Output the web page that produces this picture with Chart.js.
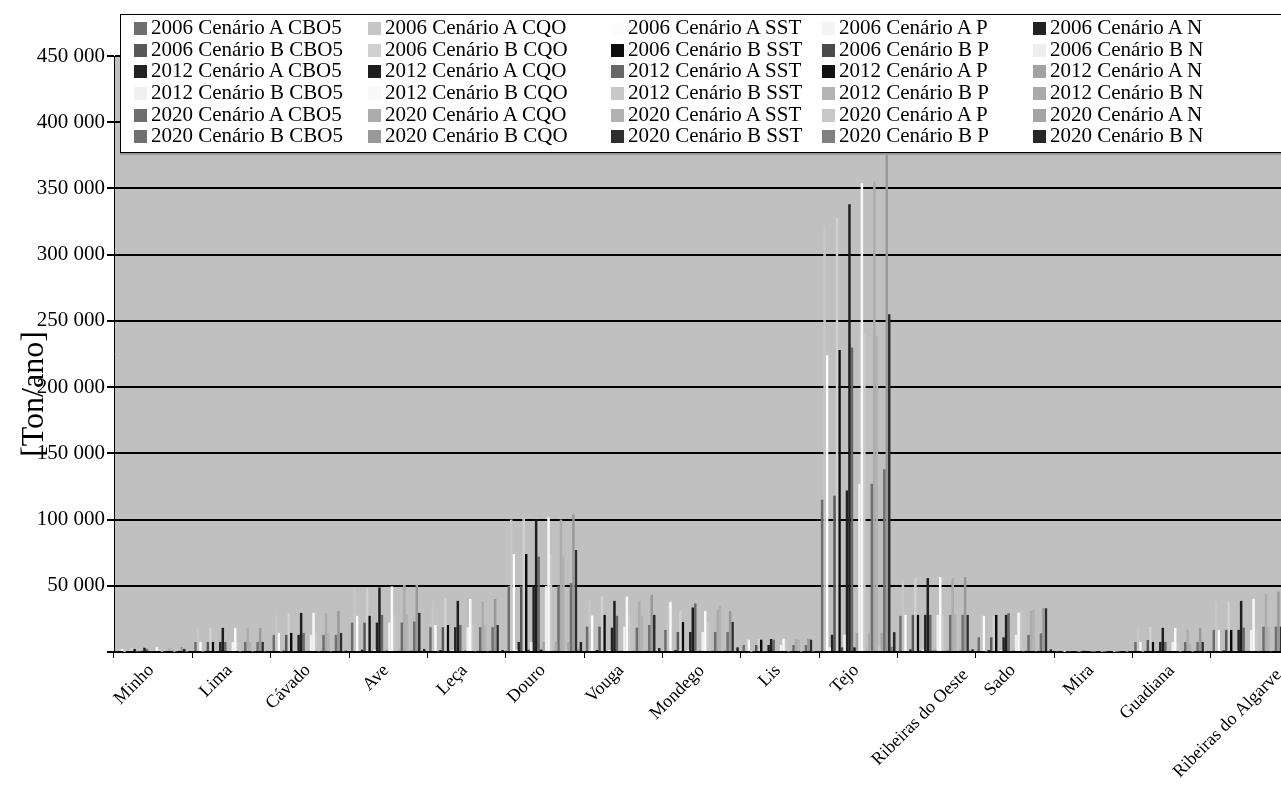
<!DOCTYPE html>
<html>
<head>
<meta charset="utf-8">
<script src="https://cdn.jsdelivr.net/npm/chart.js@4.4.1/dist/chart.umd.min.js"></script>
<style>
  html, body { margin: 0; padding: 0; overflow: hidden; background: #fff; width: 1281px; height: 790px; }
  #wrap { position: absolute; left: 0; top: 0; width: 1300px; height: 790px; }
  #legend {
    position: absolute; left: 120px; top: 14px; width: 1190px; height: 137px;
    background: #fff; border: 1px solid #000; box-shadow: 0 2px 0 #999;
    font-family: 'Liberation Serif', 'Times New Roman', serif; font-size: 21px; color: #000;
  }
  .item { position: absolute; white-space: nowrap; line-height: 21px; }
  .sw { display: inline-block; width: 13px; height: 13px; margin-right: 4px; vertical-align: -1px; }
</style>
</head>
<body>
<div id="wrap"><canvas id="chart" width="1300" height="790"></canvas></div>
<div id="legend"></div>
<script>
// Bacias hidrográficas
const bacias = ['Minho', 'Lima', 'Cávado', 'Ave', 'Leça', 'Douro', 'Vouga', 'Mondego', 'Lis', 'Tejo',
  'Ribeiras do Oeste', 'Sado', 'Mira', 'Guadiana', 'Ribeiras do Algarve'];

const cenarios = ['2006 Cenário A', '2006 Cenário B', '2012 Cenário A', '2012 Cenário B', '2020 Cenário A', '2020 Cenário B'];
const parametros = ['CBO5', 'CQO', 'SST', 'P', 'N'];

// --- CBO5 (ton/ano) ---
const cbo5_2006A = [700, 7600, 12900, 22200, 18700, 50000, 19200, 16700, 5300, 115000, 27300, 11100, 400, 7600, 16700];
const cbo5_2006B = [700, 7600, 12900, 22200, 18700, 50000, 19200, 15100, 5300, 118000, 28000, 11100, 400, 9100, 16700];
const cbo5_2012A = [800, 7600, 12900, 22200, 18700, 50000, 18400, 15100, 5300, 122000, 28000, 11100, 400, 7600, 16700];
const cbo5_2012B = [800, 7600, 12900, 22200, 18700, 50000, 19200, 15100, 5300, 127000, 28000, 12900, 400, 7600, 16700];
const cbo5_2020A = [800, 7600, 12900, 22200, 18700, 50000, 18400, 15100, 5300, 127000, 28000, 12900, 400, 7600, 19200];
const cbo5_2020B = [900, 7600, 12900, 23000, 18700, 52000, 20400, 15100, 5300, 138000, 28000, 14100, 400, 7600, 19200];

// --- CQO ---
const cqo_2006A = [3000, 18200, 28000, 48200, 38600, 100000, 40100, 34800, 9800, 322000, 54500, 28000, 900, 18200, 38100];
const cqo_2006B = [3200, 18200, 29500, 48200, 40100, 101000, 41900, 31000, 9800, 328000, 55800, 27300, 900, 18900, 38100];
const cqo_2012A = [3200, 18200, 29500, 48700, 38600, 100000, 38600, 33600, 9800, 338000, 55800, 28000, 900, 18200, 38600];
const cqo_2012B = [3800, 18200, 29500, 49500, 40100, 101500, 41900, 31000, 10000, 354000, 56600, 29800, 900, 18200, 40100];
const cqo_2020A = [2800, 18200, 29500, 50700, 38600, 100000, 38600, 31800, 10000, 355000, 55800, 31000, 900, 16700, 43900];
const cqo_2020B = [3800, 18200, 31000, 50700, 40100, 104000, 43200, 31000, 10000, 377000, 56600, 33000, 900, 18200, 45500];

// --- SST ---
const sst_2006A = [2300, 7600, 14400, 27300, 20400, 74000, 27500, 37900, 9300, 224000, 28000, 27300, 700, 7600, 16700];
const sst_2006B = [2300, 7600, 14400, 27300, 20400, 74000, 28000, 22700, 9300, 228000, 28000, 28000, 700, 7600, 16700];
const sst_2012A = [2300, 7600, 14400, 28000, 20400, 72000, 27300, 36600, 9300, 230000, 28000, 29300, 700, 7600, 18400];
const sst_2012B = [2300, 7600, 14400, 28000, 20400, 74000, 28000, 22700, 9300, 240000, 28000, 30600, 700, 7600, 18400];
const sst_2020A = [2300, 7600, 14400, 28000, 20400, 72000, 27300, 34800, 9300, 239000, 28000, 31800, 700, 6000, 19200];
const sst_2020B = [2300, 7600, 14400, 29500, 20400, 77000, 28000, 22700, 9300, 255000, 28000, 33000, 700, 7600, 19200];

// --- P ---
const p_2006A = [150, 400, 500, 800, 600, 1800, 800, 700, 300, 3500, 1000, 500, 50, 300, 600];
const p_2006B = [150, 400, 500, 800, 600, 1800, 800, 700, 300, 3500, 1000, 500, 50, 300, 600];
const p_2012A = [150, 400, 500, 800, 600, 1800, 800, 700, 300, 3500, 1000, 500, 50, 300, 600];
const p_2012B = [150, 400, 500, 800, 600, 1800, 800, 700, 300, 3500, 1000, 500, 50, 300, 600];
const p_2020A = [150, 400, 500, 800, 600, 1800, 800, 700, 300, 4000, 1000, 500, 50, 300, 600];
const p_2020B = [150, 400, 500, 800, 600, 1900, 800, 700, 300, 4000, 1000, 500, 50, 300, 600];

// --- N ---
const n_2006A = [600, 800, 1000, 1800, 1500, 7600, 1500, 1500, 700, 13000, 2000, 1500, 250, 800, 1200];
const n_2006B = [600, 800, 1000, 1800, 1500, 7600, 1500, 1500, 700, 13000, 2000, 1500, 250, 800, 1200];
const n_2012A = [600, 800, 1000, 1800, 1500, 7600, 1500, 1500, 700, 14500, 2000, 1500, 250, 800, 1200];
const n_2012B = [600, 800, 1000, 1800, 1500, 7600, 1500, 1500, 700, 14500, 2000, 1500, 250, 800, 1200];
const n_2020A = [600, 800, 1000, 1800, 1500, 7600, 1500, 1500, 700, 14500, 2000, 1500, 250, 800, 1200];
const n_2020B = [700, 800, 1000, 2300, 1500, 7600, 3000, 3500, 700, 15000, 2000, 2000, 250, 800, 1200];

// cores (tons de cinzento) por cenário: CBO5, CQO, SST, P, N
const cores_2006A = ['#6e6e6e', '#c6c6c6', '#fcfcfc', '#f4f4f4', '#222222'];
const cores_2006B = ['#585858', '#d0d0d0', '#0c0c0c', '#4a4a4a', '#eeeeee'];
const cores_2012A = ['#222222', '#1e1e1e', '#686868', '#111111', '#a2a2a2'];
const cores_2012B = ['#f0f0f0', '#f8f8f8', '#c8c8c8', '#b4b4b4', '#aaaaaa'];
const cores_2020A = ['#6e6e6e', '#acacac', '#b2b2b2', '#c8c8c8', '#a4a4a4'];
const cores_2020B = ['#707070', '#999999', '#2e2e2e', '#808080', '#262626'];

const series = [
  [cbo5_2006A, cqo_2006A, sst_2006A, p_2006A, n_2006A],
  [cbo5_2006B, cqo_2006B, sst_2006B, p_2006B, n_2006B],
  [cbo5_2012A, cqo_2012A, sst_2012A, p_2012A, n_2012A],
  [cbo5_2012B, cqo_2012B, sst_2012B, p_2012B, n_2012B],
  [cbo5_2020A, cqo_2020A, sst_2020A, p_2020A, n_2020A],
  [cbo5_2020B, cqo_2020B, sst_2020B, p_2020B, n_2020B]
];
const cores = [cores_2006A, cores_2006B, cores_2012A, cores_2012B, cores_2020A, cores_2020B];

const datasets = [];
cenarios.forEach((c, i) => {
  parametros.forEach((p, j) => {
    datasets.push({
      label: c + ' ' + p,
      data: series[i][j],
      backgroundColor: cores[i][j],
      borderWidth: 0
    });
  });
});

const FONTE = "'Liberation Serif', 'Times New Roman', serif";

// fundo cinzento da área do gráfico
const plotBg = {
  id: 'plotBg',
  beforeDraw(chart) {
    const { ctx, chartArea: a } = chart;
    ctx.save();
    ctx.fillStyle = '#c0c0c0';
    ctx.fillRect(a.left, a.top, a.right - a.left, a.bottom - a.top);
    ctx.restore();
  }
};

// rótulos longos ficam mais centrados na categoria (como no Excel)
const ajusteRotulos = {
  id: 'ajusteRotulos',
  beforeDraw(chart) {
    const ctx = chart.ctx;
    chart.scales.x.getLabelItems().forEach(it => {
      if (it._ajustado) return;
      ctx.font = it.font.string;
      const w = ctx.measureText(it.label).width;
      const dx = Math.min(Math.max(0, (w - 65) * 0.55), 31);
      it.options.translation[0] += dx;
      it.options.translation[1] += dx * 0.15;
      it._ajustado = true;
    });
  }
};

const chart = new Chart(document.getElementById('chart').getContext('2d'), {
  type: 'bar',
  data: { labels: bacias, datasets: datasets },
  plugins: [plotBg, ajusteRotulos],
  options: {
    responsive: false,
    animation: false,
    devicePixelRatio: 1,
    layout: { padding: { top: 56, right: 11, left: 0, bottom: 0 } },
    datasets: { bar: { categoryPercentage: 30 / 31.5, barPercentage: 1 } },
    plugins: { legend: { display: false }, tooltip: { enabled: false } },
    scales: {
      x: {
        grid: { offset: true, drawOnChartArea: false, color: '#000', tickLength: 6 },
        border: { color: '#000', width: 2 },
        ticks: { font: { family: FONTE, size: 18 }, color: '#000', maxRotation: 45, minRotation: 45, autoSkip: false, padding: 2, labelOffset: -2 },
        afterFit(s) { s.height = 790 - 652; }
      },
      y: {
        min: 0,
        max: 450000,
        ticks: {
          stepSize: 50000,
          font: { family: FONTE, size: 21 },
          color: '#000',
          padding: 2,
          callback: v => v === 0 ? '' : String(v).replace(/\B(?=(\d{3})+(?!\d))/g, ' ')
        },
        grid: { color: '#000', lineWidth: 2, tickLength: 7 },
        border: { color: '#000', width: 1 },
        title: {
          display: true,
          text: '[Ton/ano]' + '          ',
          font: { family: FONTE, size: 32 },
          color: '#000',
          padding: { top: 15, bottom: 0 }
        },
        afterFit(s) { s.width = 114; }
      }
    }
  }
});

// legenda (5 colunas x 6 linhas, como no original)
const colX = [13, 247, 490, 701, 912];
const rowY = [2, 24, 45, 67, 89, 110];
const leg = document.getElementById('legend');
chart.data.datasets.forEach((ds, k) => {
  const r = Math.floor(k / 5), c = k % 5;
  const el = document.createElement('div');
  el.className = 'item';
  el.style.left = colX[c] + 'px';
  el.style.top = rowY[r] + 'px';
  el.innerHTML = '<span class="sw" style="background:' + ds.backgroundColor + '"></span>' + ds.label;
  leg.appendChild(el);
});
</script>
</body>
</html>
